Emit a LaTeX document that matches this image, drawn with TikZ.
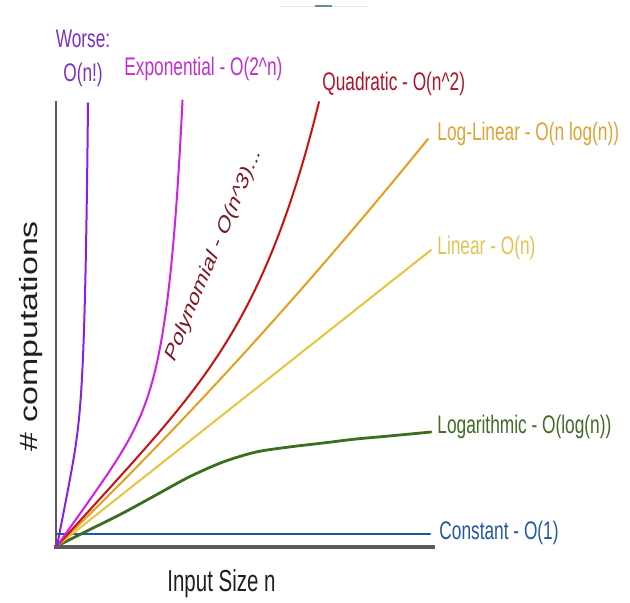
\documentclass[tikz,border=0pt]{standalone}
\usepackage{fontspec}
\setmainfont{Liberation Sans}
\usepackage{graphicx}

% tall, narrow lettering: scale the text box vertically
\newcommand{\tallsans}[2][1.47]{\scalebox{1}[#1]{#2}}

\definecolor{axisgray}{HTML}{5B5B5B}
\definecolor{cfact}{HTML}{8A1FE0}
\definecolor{cfactt}{HTML}{7B30C4}
\definecolor{cexp}{HTML}{D020E8}
\definecolor{cexpt}{HTML}{C22FD0}
\definecolor{cquad}{HTML}{CC1010}
\definecolor{cquadt}{HTML}{B0142A}
\definecolor{cpolyt}{HTML}{7E1A24}
\definecolor{cloglin}{HTML}{E89E1C}
\definecolor{cloglint}{HTML}{E0A235}
\definecolor{clin}{HTML}{E8C43C}
\definecolor{clint}{HTML}{E2C350}
\definecolor{clog}{HTML}{3B6E1E}
\definecolor{clogt}{HTML}{3F6B25}
\definecolor{cconst}{HTML}{1E56A6}
\definecolor{cconstt}{HTML}{2457A5}
\definecolor{cstrip}{HTML}{5F8F9F}

\begin{document}
\begin{tikzpicture}[x=0.5pt,y=-0.5pt,
  lbl/.style={anchor=west, inner sep=0pt, font=\fontsize{8.65}{10}\selectfont},
  curve/.style={line width=1pt, line cap=round, line join=round},
  axisline/.style={draw=axisgray, line cap=rect}]
\useasboundingbox (0,0) rectangle (630,602);

% faint strip along the top edge
\draw[black!10, line width=0.5pt] (280,6) -- (367,6);
\draw[cstrip, line width=0.8pt] (315,6) -- (332,6);

% axes
\coordinate (O) at (56,547);
\coordinate (ytop) at (56,102);
\coordinate (xend) at (433,547);
\draw[axisline, line width=1.4pt] (ytop) -- (O);
\draw[axisline, line width=2pt] (O) -- (xend);

% curve end points
\coordinate (o) at (57,546);
\coordinate (elin) at (431,250);
\coordinate (cs) at (57,534);
\coordinate (ec) at (430,534);

% growth curves (x measured from the origin, height upward)
\draw[curve, cconst, line width=1.4pt] (cs) -- (ec);
\draw[curve, clog, line width=1.4pt] plot[smooth] coordinates
  {(57,546) (89,530) (123,513) (156,495) (189,477) (223,462) (256,452) (289,447) (323,443) (356,439) (389,436) (431,432)};
\draw[curve, clin] (o) -- (elin);
\draw[curve, cloglin] plot[domain=0:371, samples=80]
  ({57+\x}, {546-0.9625*\x-3.63*(\x/100)^2});
\draw[curve, cquad] plot[domain=0:262, samples=150]
  ({57+\x}, {546-1.1*\x-155.8*(\x/262)^5});
\draw[curve, cexp] plot[domain=0:125.5, samples=300]
  ({57+\x}, {546-1.4*\x-270*(exp((\x-125.5)/14)-exp(-125.5/14))});
\draw[curve, cfact] plot[domain=0:31, samples=300]
  ({57+\x}, {546-5.1*\x-285*(exp((\x-31)/3.1)-exp(-10))});

% curve labels
\node[lbl, text=cconstt] (lconst) at (439,533) {\tallsans{Constant - O(1)}};
\node[lbl, text=clogt] (llog) at (437,427) {\tallsans{Logarithmic - O(log(n))}};
\node[lbl, text=clint] (llin) at (437,248) {\tallsans{Linear - O(n)}};
\node[lbl, text=cloglint] (lloglin) at (437,134) {\tallsans{Log-Linear - O(n log(n))}};
\node[lbl, text=cquadt] (lquad) at (322,84) {\tallsans{Quadratic - O(n\textasciicircum 2)}};
\node[lbl, text=cexpt] (lexp) at (124,69) {\tallsans{Exponential - O(2\textasciicircum n)}};
\node[lbl, anchor=center, text=cfactt] (lworse) at (83,39) {\tallsans{Worse:}};
\node[lbl, anchor=center, text=cfactt] (lfact) at (83,75) {\tallsans{O(n!)}};
\node[lbl, anchor=center, text=cpolyt] (lpoly) at (214,255)
  {\tallsans{\rotatebox{58.7}{Polynomial - O(n\textasciicircum 3)...}}};

% axis titles
\node[inner sep=0pt, font=\fontsize{12.5}{14}\selectfont, text=black!88] (ylab) at (31,336)
  {\tallsans[1.357]{\rotatebox{90}{\# computations}}};
\node[inner sep=0pt, font=\fontsize{10.25}{12}\selectfont, text=black!88] (xlab) at (221.5,584)
  {\tallsans[1.48]{Input Size n}};
\end{tikzpicture}
\end{document}
